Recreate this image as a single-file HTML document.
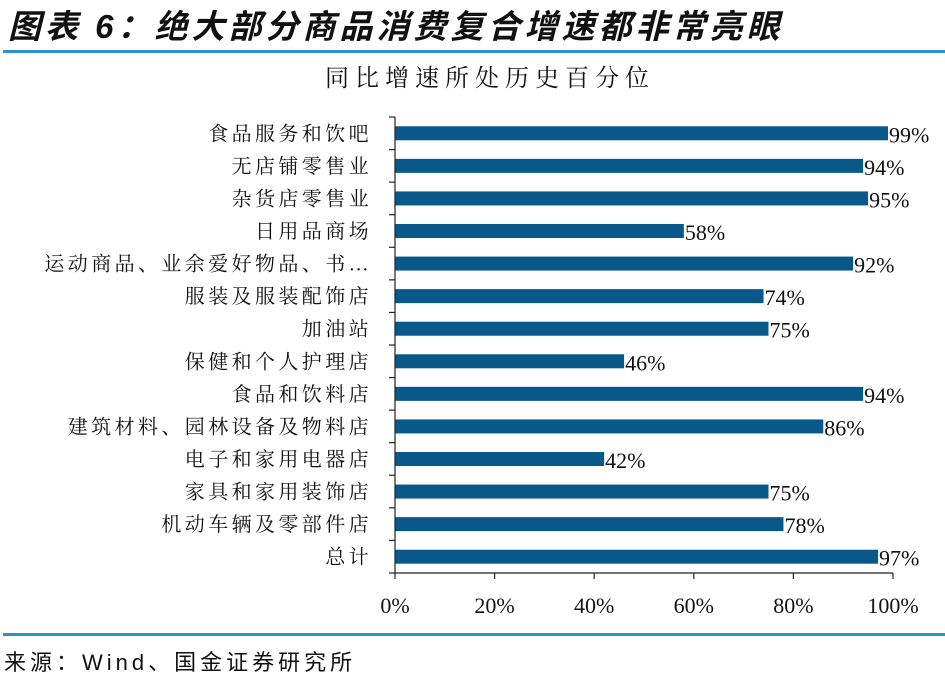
<!DOCTYPE html>
<html><head><meta charset="utf-8"><style>
body{margin:0;background:#fff;width:945px;height:679px;overflow:hidden;position:relative;font-family:"Liberation Serif","Noto Serif CJK SC",serif}
.h{position:absolute;left:8px;top:0px;font:italic bold 33px "Liberation Sans","Noto Sans CJK SC",sans-serif;color:#111;letter-spacing:4px}
.ln{position:absolute;left:3px;width:942px;height:3px;background:#2a93c9}
.src{position:absolute;left:4px;top:645px;font:22px "Liberation Sans","Noto Sans CJK SC",sans-serif;color:#111;letter-spacing:4px}
</style></head><body>
<div class="h">图表 6：绝大部分商品消费复合增速都非常亮眼</div>
<div class="ln" style="top:50px"></div>
<svg id="c" width="945" height="679" style="position:absolute;left:0;top:0"></svg>
<div class="ln" style="top:633px"></div>
<div class="src">来源：Wind、国金证券研究所</div>
<script>
const categories=["食品服务和饮吧","无店铺零售业","杂货店零售业","日用品商场","运动商品、业余爱好物品、书…","服装及服装配饰店","加油站","保健和个人护理店","食品和饮料店","建筑材料、园林设备及物料店","电子和家用电器店","家具和家用装饰店","机动车辆及零部件店","总计"];
const values=[99,94,95,58,92,74,75,46,94,86,42,75,78,97];
const ticks=[0,20,40,60,80,100];
const svg=document.getElementById('c');const NS='http://www.w3.org/2000/svg';
const x0=395,x1=893,yT=117,yB=573,band=(yB-yT)/categories.length,bh=14;
const X=v=>x0+(x1-x0)*v/100, Y=i=>yT+band*(i+0.5);
function mk(t,a,txt){const e=document.createElementNS(NS,t);for(const k in a)e.setAttribute(k,a[k]);if(txt!=null)e.textContent=txt;svg.appendChild(e);return e;}
let e=mk('text',{x:490,y:86,'text-anchor':'middle','font-size':24,'letter-spacing':6,fill:'#111'},'同比增速所处历史百分位');

categories.forEach((c,i)=>{
 let b=mk('rect',{x:x0,y:Y(i)-bh/2,width:X(values[i])-x0,height:bh,fill:'#08588a'});
 
 let l=mk('text',{x:372,y:Y(i)+7,'text-anchor':'end','font-size':20,'letter-spacing':3.4,fill:'#111'},c);
 
 let v=mk('text',{x:X(values[i])+1,y:Y(i)+9,'font-size':22,fill:'#111'},values[i]+'%');
 
});
for(let i=0;i<=categories.length;i++){let t=mk('line',{x1:x0-6,x2:x0,y1:yT+band*i,y2:yT+band*i,stroke:'#222','stroke-width':1.2});}
let ya=mk('line',{x1:x0,x2:x0,y1:yT,y2:yB,stroke:'#222','stroke-width':1.2});
let xa=mk('line',{x1:x0,x2:x1,y1:yB,y2:yB,stroke:'#222','stroke-width':1.2});
ticks.forEach(t=>{let k=mk('line',{x1:X(t),x2:X(t),y1:yB,y2:yB+6,stroke:'#222','stroke-width':1.2});
 let l=mk('text',{x:X(t),y:613,'text-anchor':'middle','font-size':22,fill:'#111'},t+'%');});
</script>
</body></html>
